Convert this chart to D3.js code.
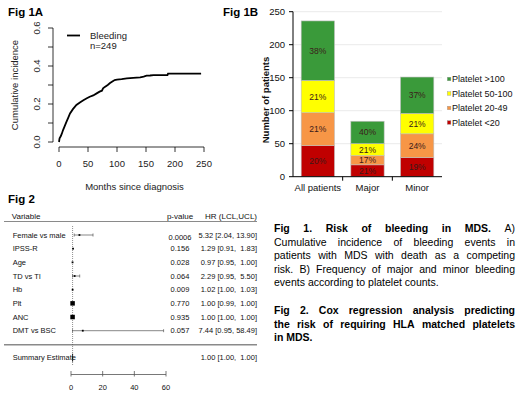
<!DOCTYPE html>
<html><head><meta charset="utf-8">
<script src="https://cdn.jsdelivr.net/npm/d3@7"></script>
<style>
body{margin:0;background:#fff;}
svg text{font-family:Arial,"Liberation Sans",sans-serif;}
</style></head>
<body>
<svg id="c" width="520" height="398"></svg>
<script>
// ---------- Data ----------
// Fig 1A cumulative incidence
const months    = [0,0.5,1,3,5,7,10,13,16,19,24,30,36,42,48,53,59,65,70,74,76,79,84,88,92,96,100,108,117,128,140,146,151,157,163,175,187,188,200,220,245];
const incidence = [0,0.01,0.02,0.03,0.045,0.063,0.085,0.107,0.128,0.15,0.173,0.195,0.208,0.22,0.23,0.238,0.245,0.256,0.265,0.27,0.282,0.29,0.3,0.31,0.318,0.326,0.328,0.331,0.335,0.338,0.34,0.344,0.349,0.35,0.352,0.352,0.352,0.36,0.36,0.36,0.36];
const incYTicks = [0,0.1,0.2,0.3,0.4,0.5,0.6];
const incYLabels = [0,0.2,0.4,0.6];
const incXTicks = [0,50,100,150,200,250];

// Fig 1B stacked bars
const barCategories = ["All patients","Major","Minor"];
const seriesNames = ["Platelet <20","Platelet 20-49","Platelet 50-100","Platelet >100"];
const plt20   = [47,18,29];
const plt2049 = [50,14,36];
const plt50100= [49,18,31];
const plt100  = [90,34,55];
const pctLabels = [["20%","21%","21%","38%"],["21%","17%","21%","40%"],["19%","24%","21%","37%"]];
const barYTicks = [0,50,100,150,200,250];

// Fig 2 forest plot
const variables = ["Female vs male","IPSS-R","Age","TD vs TI","Hb","Plt","ANC","DMT vs BSC"];
const pValues   = ["0.0006","0.156","0.028","0.064","0.009","0.770","0.935","0.057"];
const hrs  = [5.32,1.29,0.97,2.29,1.02,1.00,1.00,7.44];
const lcls = [2.04,0.91,0.95,0.95,1.00,0.99,1.00,0.95];
const ucls = [13.90,1.83,1.00,5.50,1.03,1.00,1.00,58.49];
const summaryLabel = "Summary Estimate";
const summary = [1.00,1.00,1.00];
const forestTicks = [0,20,40,60];

// ---------- Drawing ----------
const svg = d3.select("#c");
const FONT = 'Arial,"Liberation Sans",sans-serif';

function title(t,x,y){
  svg.append("text").attr("x",x).attr("y",y).attr("font-size",11.5).attr("font-weight","bold").text(t);
}
title("Fig 1A",8,16);
title("Fig 1B",223,16);
title("Fig 2",8,203);

// ===== Fig 1A =====
{
  const g = svg.append("g");
  const x = d3.scaleLinear().domain([0,250]).range([59,204]);
  const y = d3.scaleLinear().domain([0,0.6]).range([142,28]);
  const axX = 53, axY = 147;
  // y axis
  g.append("line").attr("x1",axX).attr("x2",axX).attr("y1",y(0)).attr("y2",y(0.6)).attr("stroke","#000").attr("stroke-width",0.8);
  incYTicks.forEach(t=>{
    g.append("line").attr("x1",axX-5).attr("x2",axX).attr("y1",y(t)).attr("y2",y(t)).attr("stroke","#000").attr("stroke-width",0.8);
  });
  incYLabels.forEach(t=>{
    g.append("text").attr("transform",`translate(${axX-13},${y(t)}) rotate(-90)`)
      .attr("text-anchor","middle").attr("font-size",9.5).attr("fill","#222").text(d3.format(".1f")(t));
  });
  // x axis
  g.append("line").attr("x1",x(0)).attr("x2",x(250)).attr("y1",axY).attr("y2",axY).attr("stroke","#000").attr("stroke-width",0.8);
  incXTicks.forEach(t=>{
    g.append("line").attr("x1",x(t)).attr("x2",x(t)).attr("y1",axY).attr("y2",axY+5).attr("stroke","#000").attr("stroke-width",0.8);
    g.append("text").attr("x",x(t)).attr("y",166.5).attr("text-anchor","middle").attr("font-size",9.5).attr("fill","#222").text(t);
  });
  g.append("text").attr("x",134.5).attr("y",189.5).attr("text-anchor","middle").attr("font-size",9.5).attr("fill","#222").text("Months since diagnosis");
  g.append("text").attr("transform","translate(18,85) rotate(-90)").attr("text-anchor","middle").attr("font-size",9.5).attr("fill","#222").text("Cumulative incidence");
  // curve
  const pts = months.map((m,i)=>[m,incidence[i]]);
  g.append("path").datum(pts).attr("fill","none").attr("stroke","#000").attr("stroke-width",1.8)
    .attr("d",d3.line().x(d=>x(d[0])).y(d=>y(d[1])));
  // legend
  g.append("line").attr("x1",67).attr("x2",80).attr("y1",35.5).attr("y2",35.5).attr("stroke","#000").attr("stroke-width",1.8);
  g.append("text").attr("x",90).attr("y",38.5).attr("font-size",9.5).attr("fill","#222").text("Bleeding");
  g.append("text").attr("x",90).attr("y",48.5).attr("font-size",9.5).attr("fill","#222").text("n=249");
}

// ===== Fig 1B =====
{
  const g = svg.append("g");
  const colors = ["#c00000","#f79646","#ffff00","#3a9a3a"];
  const x = d3.scaleBand().domain(barCategories).range([293,442]).paddingInner(0.33).paddingOuter(0.165);
  const y = d3.scaleLinear().domain([0,250]).range([176.7,11.7]);
  // gridlines
  barYTicks.forEach(t=>{
    if(t>0) g.append("line").attr("x1",293).attr("x2",442).attr("y1",y(t)).attr("y2",y(t)).attr("stroke","#e3e3e3").attr("stroke-width",0.8);
  });
  const rows = barCategories.map((c,i)=>({cat:c,s0:plt20[i],s1:plt2049[i],s2:plt50100[i],s3:plt100[i],idx:i}));
  const stack = d3.stack().keys(["s0","s1","s2","s3"])(rows);
  stack.forEach((layer,li)=>{
    layer.forEach((d,ci)=>{
      g.append("rect").attr("x",x(d.data.cat)).attr("width",x.bandwidth())
        .attr("y",y(d[1])).attr("height",y(d[0])-y(d[1]))
        .attr("fill",colors[li]).attr("stroke","#bdbdbd").attr("stroke-width",0.6);
      g.append("text").attr("x",x(d.data.cat)+x.bandwidth()/2).attr("y",(y(d[0])+y(d[1]))/2+3)
        .attr("text-anchor","middle").attr("font-size",8.5).attr("fill","#3a1a1a").text(pctLabels[ci][li]);
    });
  });
  // axes
  g.append("line").attr("x1",293).attr("x2",293).attr("y1",y(0)).attr("y2",y(250)).attr("stroke","#000").attr("stroke-width",1);
  g.append("line").attr("x1",293).attr("x2",442).attr("y1",y(0)).attr("y2",y(0)).attr("stroke","#000").attr("stroke-width",1);
  barYTicks.forEach(t=>{
    g.append("line").attr("x1",289).attr("x2",293).attr("y1",y(t)).attr("y2",y(t)).attr("stroke","#000").attr("stroke-width",1);
    g.append("text").attr("x",285).attr("y",y(t)+3.3).attr("text-anchor","end").attr("font-size",9.5).attr("fill","#111").text(t);
  });
  const step = x.step();
  [1,2].forEach(k=>{
    const bx = 293 + k*(442-293)/3;
    g.append("line").attr("x1",bx).attr("x2",bx).attr("y1",y(0)).attr("y2",y(0)+4).attr("stroke","#000").attr("stroke-width",1);
  });
  barCategories.forEach(c=>{
    g.append("text").attr("x",x(c)+x.bandwidth()/2).attr("y",191).attr("text-anchor","middle").attr("font-size",9.5).attr("fill","#111").text(c);
  });
  g.append("text").attr("transform","translate(268.5,100) rotate(-90)").attr("text-anchor","middle")
    .attr("font-size",9.5).attr("font-weight","bold").attr("fill","#111").text("Number of patients");
  // legend
  const legY = d3.scalePoint().domain(seriesNames.slice().reverse()).range([79,122.5]);
  seriesNames.forEach((s,i)=>{
    g.append("rect").attr("x",447.3).attr("y",legY(s)-1.8).attr("width",3.6).attr("height",3.6)
      .attr("fill",colors[i]).attr("stroke","#999").attr("stroke-width",0.4);
    g.append("text").attr("x",452).attr("y",legY(s)+3.2).attr("font-size",9).attr("fill","#111").text(s);
  });
}

// ===== Fig 2 forest =====
{
  const g = svg.append("g");
  const x = d3.scaleLinear().domain([0,60]).range([71,166]);
  const y = d3.scalePoint().domain(variables).range([235,330.7]);
  const fs = 7.5;
  g.append("text").attr("x",11.7).attr("y",218.5).attr("font-size",8).attr("fill","#111").text("Variable");
  g.append("text").attr("x",180).attr("y",218.5).attr("text-anchor","middle").attr("font-size",8).attr("fill","#111").text("p-value");
  g.append("text").attr("x",257).attr("y",218.5).attr("text-anchor","end").attr("font-size",8).attr("fill","#111").text("HR (LCL,UCL)");
  g.append("line").attr("x1",4).attr("x2",257).attr("y1",221.5).attr("y2",221.5).attr("stroke","#8a8a8a").attr("stroke-width",1.2);
  g.append("line").attr("x1",4).attr("x2",257).attr("y1",344.7).attr("y2",344.7).attr("stroke","#8a8a8a").attr("stroke-width",1.6);
  // reference line
  g.append("line").attr("x1",x(1)).attr("x2",x(1)).attr("y1",226).attr("y2",366).attr("stroke","#444").attr("stroke-width",0.6).attr("stroke-dasharray","1,1");
  const f2 = d3.format(".2f");
  variables.forEach((v,i)=>{
    const yy = y(v);
    g.append("text").attr("x",12.7).attr("y",yy+2.7).attr("font-size",fs).attr("fill","#111").text(v);
    g.append("text").attr("x",180).attr("y",yy+2.7+(i===0?2:0)).attr("text-anchor","middle").attr("font-size",fs).attr("fill","#111").text(pValues[i]);
    g.append("text").attr("x",257).attr("y",yy+2.7).attr("text-anchor","end").attr("font-size",fs).attr("fill","#111")
      .style("white-space","pre").text(`${f2(hrs[i])} [${f2(lcls[i])}, ${f2(ucls[i]).padStart(5," ")}]`);
    // CI
    const w = ucls[i]-lcls[i];
    if (x(ucls[i])-x(lcls[i])>1.5){
      g.append("line").attr("x1",x(lcls[i])).attr("x2",x(ucls[i])).attr("y1",yy).attr("y2",yy).attr("stroke","#555").attr("stroke-width",0.7);
      [lcls[i],ucls[i]].forEach(e=>g.append("line").attr("x1",x(e)).attr("x2",x(e)).attr("y1",yy-1.5).attr("y2",yy+1.5).attr("stroke","#555").attr("stroke-width",0.7));
    }
    const size = Math.max(1.8, Math.min(4.5, 0.045/Math.max(w,0.005)));
    g.append("rect").attr("x",x(hrs[i])-size/2).attr("y",yy-size/2).attr("width",size).attr("height",size).attr("fill","#000");
  });
  // summary
  const sy = 357.7;
  g.append("text").attr("x",12.7).attr("y",sy+2.7).attr("font-size",fs).attr("fill","#111").text(summaryLabel);
  g.append("text").attr("x",257).attr("y",sy+2.7).attr("text-anchor","end").attr("font-size",fs).attr("fill","#111")
    .style("white-space","pre").text(`${f2(summary[0])} [${f2(summary[1])}, ${f2(summary[2]).padStart(5," ")}]`);
  g.append("line").attr("x1",x(summary[0])).attr("x2",x(summary[0])).attr("y1",sy-4).attr("y2",sy+4).attr("stroke","#000").attr("stroke-width",0.8);
  // axis
  const ay = 374.5;
  g.append("line").attr("x1",x(0)).attr("x2",x(60)).attr("y1",ay).attr("y2",ay).attr("stroke","#555").attr("stroke-width",0.8);
  forestTicks.forEach(t=>{
    g.append("line").attr("x1",x(t)).attr("x2",x(t)).attr("y1",ay-3.5).attr("y2",ay+2).attr("stroke","#555").attr("stroke-width",0.8);
    g.append("text").attr("x",x(t)).attr("y",390).attr("text-anchor","middle").attr("font-size",fs).attr("fill","#111").text(t);
  });
}

// ===== Captions (justified) =====
function paragraph(lines, x0, x1, y0, lh, fs){
  const g = svg.append("g");
  lines.forEach((ln,li)=>{
    const yy = y0 + li*lh;
    const words = ln.words;
    const els = words.map(w=>g.append("text").attr("y",yy).attr("font-size",fs)
      .attr("font-weight",w.b?"bold":"normal").attr("fill","#000").text(w.t));
    const widths = els.map(e=>e.node().getComputedTextLength());
    const total = d3.sum(widths);
    const space = fs*0.28;
    const gap = ln.justify && words.length>1 ? (x1-x0-total)/(words.length-1) : space;
    let cx = x0;
    els.forEach((e,i)=>{ e.attr("x",cx); cx += widths[i]+gap; });
  });
}
function W(s,b){ return s.split(" ").map(t=>({t,b})); }
paragraph([
  {words:[...W("Fig 1. Risk of bleeding in MDS.",true),...W("A)",false)],justify:true},
  {words:W("Cumulative incidence of bleeding events in",false),justify:true},
  {words:W("patients with MDS with death as a competing",false),justify:true},
  {words:W("risk. B) Frequency of major and minor bleeding",false),justify:true},
  {words:W("events according to platelet counts.",false),justify:false}
],274,515,232,13.6,10.5);
paragraph([
  {words:W("Fig 2. Cox regression analysis predicting",true),justify:true},
  {words:W("the risk of requiring HLA matched platelets",true),justify:true},
  {words:W("in MDS.",true),justify:false}
],274,515,314,13.6,10.5);
</script>
</body></html>
